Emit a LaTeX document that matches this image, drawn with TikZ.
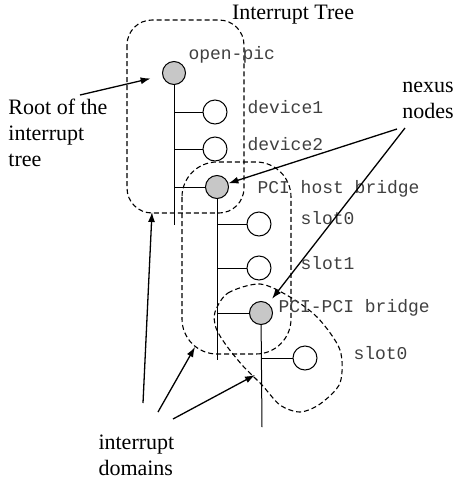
\documentclass[tikz,border=0pt]{standalone}
\usepackage{fontspec}
\setmainfont{Liberation Serif}
\setmonofont{Liberation Mono}
\usetikzlibrary{positioning}
\usetikzlibrary{arrows.meta}
\tikzset{%
  leafnode/.style = {circle,draw,solid,fill=white,minimum size=24pt,
        inner sep=0pt},
  nexusnode/.style = {circle,draw,solid,fill=black!22,minimum size=23pt,
        inner sep=0pt},
  devlabel/.style = {anchor=west,inner sep=0pt,text=black!75,
        font=\fontsize{18}{20}\selectfont\ttfamily},
  notetext/.style = {inner sep=0pt,font=\fontsize{22}{26}\selectfont},
  domainline/.style = {dash pattern=on 5pt off 3pt,line width=1.1pt},
  pointer/.style = {-{Latex[length=10pt,width=7pt]},line width=1.3pt}
}
\begin{document}
\begin{tikzpicture}[x=1pt,y=-1pt,line width=1pt]
                            \useasboundingbox (0,0) rectangle (460,480);
                            \node[notetext] (title) at (293,15) {Interrupt Tree};

                            % interrupt domains
                            \draw[domainline,rounded corners=25pt] (127,20) rectangle (244,213);
                            \draw[domainline,rounded corners=35pt] (182,162) rectangle (291,354);
                            \draw[domainline] plot[smooth cycle] coordinates {(215,312) (228,293) (260,284) (290,297) (318,318) (340,350) (340,383) (320,404) (300,412) (280,405) (262,385) (243,366) (226,345) (216,328)};

                            % tree
                            \node[nexusnode] (opic) at (174,73) {};
                            \node[leafnode] (dev1) at (215,112) {};
                            \node[leafnode] (dev2) at (215,149) {};
                            \node[nexusnode] (phb) at (217,187) {};
                            \node[leafnode] (slotA) at (259,224) {};
                            \node[leafnode] (slotB) at (259,268) {};
                            \node[nexusnode] (ppb) at (261,313) {};
                            \node[leafnode] (slotC) at (305,358) {};

                            \coordinate (opicEnd) at (174,225);
                            \coordinate (phbEnd) at (217,360);
                            \coordinate (ppbEnd) at (262,427);
                            \draw (opic) -- (opicEnd);
                            \draw (phb) -- (phbEnd);
                            \draw (ppb) -- (ppbEnd);
                            \foreach \n/\t in {dev1/opic,dev2/opic,phb/opic,slotA/phb,slotB/phb,ppb/phb,slotC/ppb}
                                \draw (\n.west) -- (\n.west -| \t);

                            \node[devlabel] (lopic) at (188,55) {open-pic};
                            \node[devlabel] (ldev1) at (247,107) {device1};
                            \node[devlabel] (ldev2) at (247,144) {device2};
                            \node[devlabel] (lphb) at (257,189) {PCI host bridge};
                            \node[devlabel] (lslotA) at (300,218) {slot0};
                            \node[devlabel] (lslotB) at (300,263) {slot1};
                            \node[devlabel] (lppb) at (278,308) {PCI-PCI bridge};
                            \node[devlabel] (lslotC) at (353,353) {slot0};

                            % notes
                            \node[notetext,align=left,anchor=west] (root) at (8,133) {Root of the\\interrupt\\tree};
                            \node[notetext,align=center] (nexus) at (428,100) {nexus\\nodes};
                            \node[notetext,align=left,anchor=west] (domtxt) at (98,455) {interrupt\\domains};

                            \coordinate (rootTail) at (80,95);
                            \coordinate (nexTailA) at (397,129);
                            \coordinate (nexTailB) at (405,128);
                            \coordinate (domTailA) at (143,403);
                            \coordinate (domTailB) at (158,412);
                            \coordinate (domTailC) at (173,419);
                            \coordinate (domHeadA) at (152,212);
                            \coordinate (domHeadB) at (195,347);
                            \coordinate (domHeadC) at (255,375);

                            \draw[pointer,shorten >=12pt] (rootTail) -- (opic);
                            \draw[pointer] (nexTailA) -- (phb);
                            \draw[pointer,shorten >=6pt] (nexTailB) -- (ppb);
                            \draw[pointer] (domTailA) -- (domHeadA);
                            \draw[pointer] (domTailB) -- (domHeadB);
                            \draw[pointer] (domTailC) -- (domHeadC);
                        \end{tikzpicture}
\end{document}
